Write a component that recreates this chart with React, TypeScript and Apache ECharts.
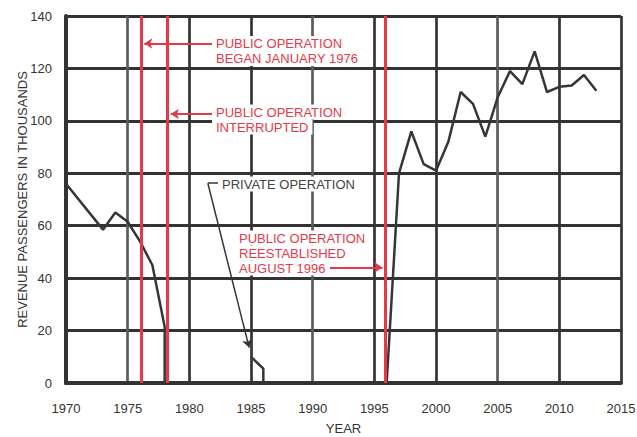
import React, { useEffect, useRef } from "react";
import * as echarts from "echarts";

// ---- Data ----
const publicYears1 = [1970, 1973, 1974, 1975, 1976, 1977, 1978, 1978];
const publicValues1 = [76, 58.5, 65, 61.5, 54, 45, 21.5, 0];

const privateYears = [1985, 1986, 1986];
const privateValues = [10, 5.5, 0];

const publicYears2 = [1996, 1997, 1998, 1999, 2000, 2001, 2002, 2003, 2004, 2005, 2006, 2007, 2008, 2009, 2010, 2011, 2012, 2013];
const publicValues2 = [0, 80, 96, 83.5, 81, 92, 111, 106.5, 94, 109, 119, 114, 126.5, 111, 113, 113.5, 117.5, 111.5];

// Event years marked by red vertical lines
const eventYears = [1976.08, 1978.22, 1995.88];

// Axis ticks
const xMin = 1970, xMax = 2015, xStep = 5;
const yMin = 0, yMax = 140, yStep = 20;

const FONT = "'Liberation Sans', Arial, Helvetica, sans-serif";
const RED = "#e5394a";
const DARK = "#363636";

const toPairs = (xs: number[], ys: number[]) => xs.map((x, i) => [x, ys[i]]);

export default function App() {
  const ref = useRef<HTMLDivElement>(null);
  useEffect(() => {
    if (!ref.current) return;
    const chart = echarts.init(ref.current, undefined, { renderer: "svg" });

    const lineSeries = (name: string, xs: number[], ys: number[]) => ({
      name,
      type: "line",
      data: toPairs(xs, ys),
      symbol: "none",
      lineStyle: { color: DARK, width: 2.5 },
      z: 3,
    });

    const gridColorsX = ["#333", "#5c5c5c", "#333", "#333", "#5c5c5c", "#333", "#333", "#5c5c5c", "#333", "#333"];

    const textLine = (text: string, x: number, y: number, color: string) => ({
      type: "text",
      x,
      y,
      z: 20,
      style: {
        text,
        fill: color,
        font: `13px ${FONT}`,
        verticalAlign: "middle",
        align: "left",
        backgroundColor: "#fff",
        padding: [1, 4, 1, 4],
      },
    });

    chart.setOption({
      animation: false,
      backgroundColor: "#fff",
      grid: { left: 66, right: 16, top: 16, bottom: 54, containLabel: false, outerBoundsMode: "none" },
      xAxis: {
        type: "value",
        min: xMin,
        max: xMax,
        interval: xStep,
        name: "YEAR",
        nameLocation: "middle",
        nameGap: 39,
        nameMoveOverlap: false,
        nameTextStyle: { fontFamily: FONT, fontSize: 13, color: "#333" },
        axisLine: { show: true, onZero: false, lineStyle: { color: "#333", width: 4 } },
        axisTick: { show: false },
        axisLabel: { margin: 19, fontFamily: FONT, fontSize: 13, color: "#333", formatter: (v: number) => String(v) },
        splitLine: { show: true, lineStyle: { color: gridColorsX, width: 2.7 } },
      },
      yAxis: {
        type: "value",
        min: yMin,
        max: yMax,
        interval: yStep,
        name: "REVENUE PASSENGERS IN THOUSANDS",
        nameLocation: "middle",
        nameRotate: 90,
        nameGap: 37,
        nameMoveOverlap: false,
        nameTextStyle: { fontFamily: FONT, fontSize: 13, color: "#333" },
        axisLine: { show: true, onZero: false, lineStyle: { color: "#333", width: 4 } },
        axisTick: { show: false },
        axisLabel: { margin: 14, fontFamily: FONT, fontSize: 13, color: "#333" },
        splitLine: { show: true, lineStyle: { color: "#333", width: 3 } },
      },
      series: [
        lineSeries("public1", publicYears1, publicValues1),
        lineSeries("private", privateYears, privateValues),
        lineSeries("public2", publicYears2, publicValues2),
        {
          name: "events",
          type: "line",
          data: [],
          z: 5,
          markLine: {
            silent: true,
            symbol: "none",
            label: { show: false },
            lineStyle: { color: RED, width: 3, type: "solid" },
            data: eventYears.map((x) => ({ xAxis: x })),
          },
        },
        {
          name: "arrows",
          type: "line",
          data: [],
          z: 6,
          markLine: {
            silent: true,
            label: { show: false },
            symbolSize: 8,
            lineStyle: { color: RED, width: 2, type: "solid" },
            data: [
              [
                { coord: [1982.0, 129.5], symbol: "none" },
                { coord: [1976.35, 129.5], symbol: "arrow" },
              ],
              [
                { coord: [1981.9, 102.6], symbol: "none" },
                { coord: [1978.5, 102.6], symbol: "arrow" },
              ],
              [
                { coord: [1991.4, 44.1], symbol: "none" },
                { coord: [1995.65, 44.1], symbol: "arrow" },
              ],
              [
                { coord: [1982.6, 76.2], symbol: "none", lineStyle: { color: DARK, width: 1.5 } },
                { coord: [1981.5, 76.2], symbol: "none" },
              ],
              [
                { coord: [1981.5, 76.2], symbol: "none", lineStyle: { color: DARK, width: 1.5 } },
                { coord: [1984.85, 13.5], symbol: "arrow" },
              ],
            ],
          },
        },
      ],
      graphic: [
        textLine("PUBLIC OPERATION", 212, 43.5, RED),
        textLine("BEGAN JANUARY 1976", 212, 58.5, RED),
        textLine("PUBLIC OPERATION", 212, 112, RED),
        textLine("INTERRUPTED", 212, 127, RED),
        textLine("PRIVATE OPERATION", 218, 184, "#444"),
        textLine("PUBLIC OPERATION", 235, 238, RED),
        textLine("REESTABLISHED", 235, 253, RED),
        textLine("AUGUST 1996", 235, 268, RED),
      ],
    });
    return () => chart.dispose();
  }, []);
  return <div ref={ref} style={{ position: "fixed", left: 0, top: 0, width: 637, height: 437 }} />;
}
